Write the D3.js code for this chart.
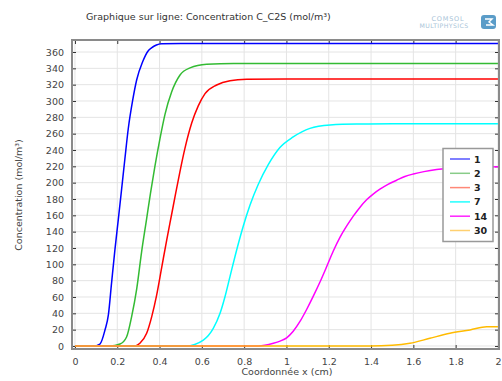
<!DOCTYPE html>
<html><head><meta charset="utf-8">
<script src="https://cdn.jsdelivr.net/npm/d3@7"></script>
<style>body{margin:0;background:#fff;}svg{display:block;font-family:"DejaVu Sans",sans-serif;}</style>
</head><body><svg id="c" width="502" height="381"></svg>
<script>
const seriesNames = ["1","2","3","7","14","30"];
const seriesColors = ["#0000ff","#33bb33","#ff0000","#00ffff","#ff00ff","#ffbb00"];
const legendColors = ["#5555ff","#88cc88","#ff8877","#22ffff","#ff22ff","#ffd070"];
const s1X = [0,0.087,0.118,0.142,0.158,0.173,0.189,0.205,0.221,0.236,0.252,0.273,0.292,0.320,0.345,0.362,0.385,0.41,0.5,1.0,1.5,2.0];
const s1Y = [0,0,2.4,19.6,38,77,118,155,193,229,266,301,326,348,361,365,368.5,370,370.5,370.5,370.5,370.5];
const s2X = [0,0.165,0.213,0.244,0.268,0.292,0.315,0.339,0.357,0.378,0.402,0.426,0.457,0.496,0.544,0.623,0.75,1.0,2.0];
const s2Y = [0,0,2.4,11,36,70,115,156,187,220,254,284,311,331.5,340.5,345,346,346,346];
const s3X = [0,0.284,0.307,0.339,0.363,0.386,0.41,0.434,0.457,0.477,0.496,0.52,0.552,0.583,0.615,0.67,0.733,0.812,1.0,2.0];
const s3Y = [0,0,3.3,15.5,36,62,96,130,161,188,213,242,273,294,309,319.6,324.8,326.5,327,327];
const s7X = [0,0.525,0.607,0.654,0.686,0.709,0.733,0.764,0.796,0.827,0.867,0.914,0.969,1.032,1.111,1.206,1.332,1.5,2.0];
const s7Y = [0,0,7.3,21.6,40,60,85,117,147,172,198,222,243,256,266.5,270.6,271.8,272,272];
const s14X = [0,0.867,0.938,0.97,1.001,1.032,1.064,1.096,1.127,1.158,1.19,1.221,1.253,1.285,1.316,1.348,1.379,1.41,1.442,1.48,1.521,1.56,1.6,1.65,1.71,1.78,1.85,2.0];
const s14Y = [0,0,3.3,6,10,18,30,45,61,78,97,116,133,147,159,170,179,186,192,198,203,207.5,210.6,213.5,216,217.5,218.5,219.5];
const s30X = [0,1.395,1.5,1.584,1.678,1.773,1.868,1.947,2.0];
const s30Y = [0,0,0.8,3.3,9.4,15.5,19.6,23.6,23.6];
const xTicks = [0,0.2,0.4,0.6,0.8,1,1.2,1.4,1.6,1.8,2];
const yTicks = [0,20,40,60,80,100,120,140,160,180,200,220,240,260,280,300,320,340,360];

const seriesX = [s1X,s2X,s3X,s7X,s14X,s30X];
const seriesY = [s1Y,s2Y,s3Y,s7Y,s14Y,s30Y];

const svg = d3.select("#c");
const L = 72, R = 499, T = 40, B = 349;
const x = d3.scaleLinear().domain([-0.014, 2.005]).range([L, R]);
const y = d3.scaleLinear().domain([-3.7, 374.7]).range([B, T]);

// title
svg.append("text").attr("x", 86).attr("y", 20).attr("font-size", 9.5).attr("fill", "#333")
  .text("Graphique sur ligne: Concentration C_C2S (mol/m³)");

// logo
svg.append("text").attr("x", 448).attr("y", 21).attr("text-anchor","middle").attr("font-size", 6.5)
  .attr("fill","#a9c4d8").attr("letter-spacing","0.8").text("COMSOL");
svg.append("text").attr("x", 444).attr("y", 28).attr("text-anchor","middle").attr("font-size", 6.2)
  .attr("fill","#a9c4d8").attr("letter-spacing","0.4").text("MULTIPHYSICS");
svg.append("rect").attr("x",481).attr("y",15).attr("width",15).attr("height",14).attr("rx",3).attr("fill","#5a9cc8");
svg.append("path").attr("d","M485,19 L492,19 L489,22 L493,25 L486,25").attr("fill","none").attr("stroke","#fff").attr("stroke-width",1.4);

// grid
const g = svg.append("g");
g.selectAll(".gx").data(xTicks).join("line")
  .attr("x1", d => x(d)).attr("x2", d => x(d)).attr("y1", T).attr("y2", B)
  .attr("stroke", "#e4e4e4").attr("stroke-width", 1);
g.selectAll(".gy").data(yTicks).join("line")
  .attr("x1", L).attr("x2", R).attr("y1", d => y(d)).attr("y2", d => y(d))
  .attr("stroke", "#e4e4e4").attr("stroke-width", 1);

// axes with inward ticks
const fmtX = d => String(+d.toFixed(1));
const axB = svg.append("g").attr("transform", `translate(0,${B})`)
  .call(d3.axisBottom(x).tickValues(xTicks).tickFormat(fmtX).tickSizeInner(-4).tickSizeOuter(0).tickPadding(9));
const axL = svg.append("g").attr("transform", `translate(${L},0)`)
  .call(d3.axisLeft(y).tickValues(yTicks).tickSizeInner(-4).tickSizeOuter(0).tickPadding(8));
const axT = svg.append("g").attr("transform", `translate(0,${T})`)
  .call(d3.axisTop(x).tickValues(xTicks).tickFormat("").tickSizeInner(-4).tickSizeOuter(0));
const axR = svg.append("g").attr("transform", `translate(${R},0)`)
  .call(d3.axisRight(y).tickValues(yTicks).tickFormat("").tickSizeInner(-4).tickSizeOuter(0));
[axB, axL, axT, axR].forEach(a => {
  a.select(".domain").remove();
  a.selectAll(".tick line").attr("stroke", "#333");
  a.selectAll("text").attr("font-size", 9.5).attr("fill", "#444").attr("font-family", "DejaVu Sans");
});

// lines
const line = d3.line().x(d => x(d[0])).y(d => y(d[1])).curve(d3.curveMonotoneX);
const plot = svg.append("g");
seriesNames.forEach((n, i) => {
  const pts = seriesX[i].map((v, j) => [v, seriesY[i][j]]);
  plot.append("path").datum(pts).attr("d", line).attr("fill", "none")
    .attr("stroke", seriesColors[i]).attr("stroke-width", 1.5);
});

// frame
svg.append("rect").attr("x", L).attr("y", T).attr("width", R - L).attr("height", B - T)
  .attr("fill", "none").attr("stroke", "#8a8a8a").attr("stroke-width", 2);

// axis labels
svg.append("text").attr("x", 287).attr("y", 375).attr("text-anchor", "middle").attr("font-size", 9.5)
  .attr("fill", "#444").text("Coordonnée x (cm)");
svg.append("text").attr("transform", "translate(22,195) rotate(-90)").attr("text-anchor", "middle")
  .attr("font-size", 9.5).attr("fill", "#444").text("Concentration (mol/m³)");

// legend
const lg = svg.append("g");
lg.append("rect").attr("x", 443).attr("y", 148.5).attr("width", 50).attr("height", 93)
  .attr("fill", "#fff").attr("stroke", "#999").attr("stroke-width", 1.5);
seriesNames.forEach((n, i) => {
  const yy = 159 + i * 14.3;
  lg.append("line").attr("x1", 450).attr("x2", 470).attr("y1", yy).attr("y2", yy)
    .attr("stroke", legendColors[i]).attr("stroke-width", 1.5);
  lg.append("text").attr("x", 474).attr("y", yy + 3.5).attr("font-size", 9.5).attr("font-weight", "bold")
    .attr("fill", "#222").text(n);
});
</script></body></html>
